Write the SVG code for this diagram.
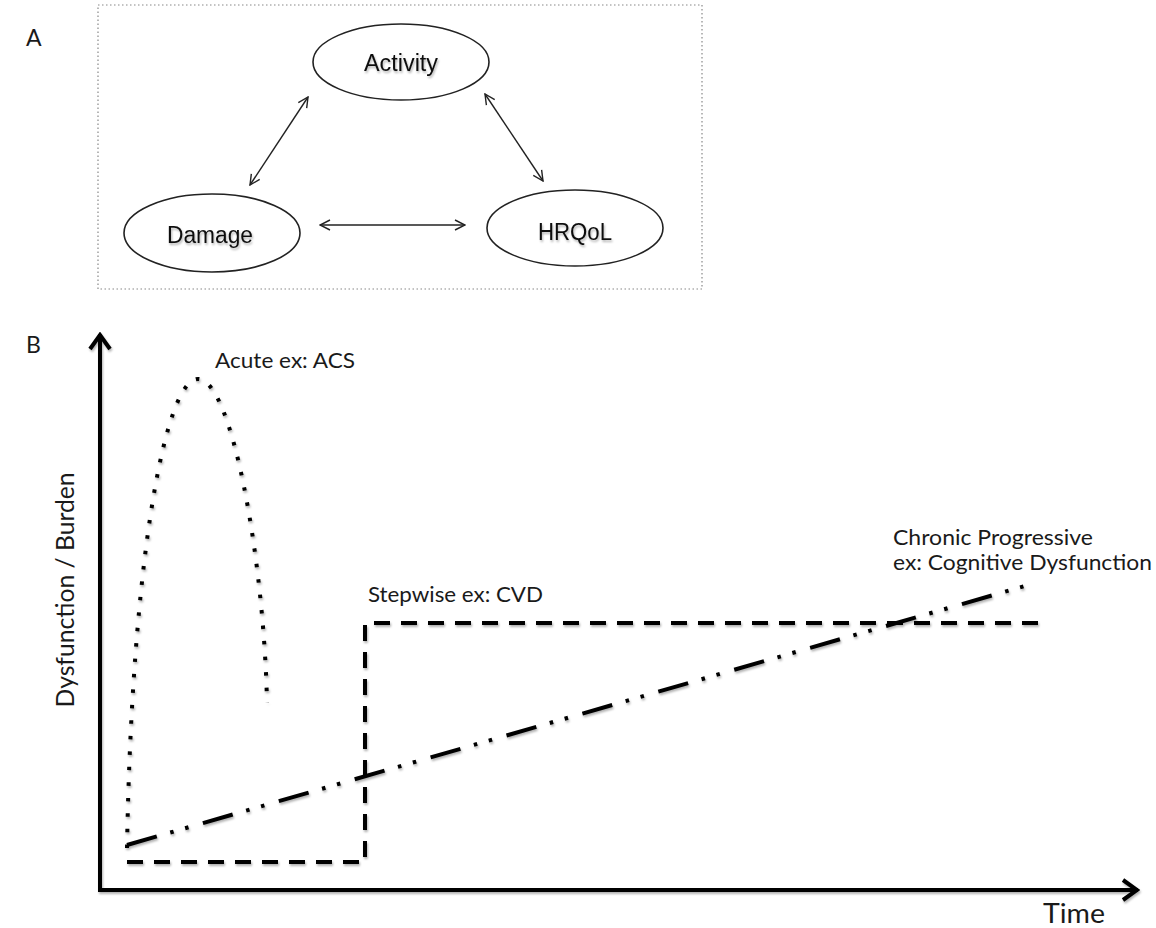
<svg xmlns="http://www.w3.org/2000/svg" width="1156" height="928" viewBox="0 0 1156 928">
<style>
.lbl{font-family:"Lato","Open Sans","Liberation Sans",sans-serif;fill:#1a1a1a}
.node{fill:#fff;stroke:#222;stroke-width:1.6}
.ntext{font-family:"Liberation Sans",Arial,sans-serif;font-size:23px;fill:#111;text-anchor:middle}
.conn{stroke:#222;stroke-width:1.4;fill:none}
.ax{stroke:#000;stroke-width:4;fill:none}
.curve{stroke:#000;stroke-width:4;fill:none}
</style>
<defs>
<marker id="oa" viewBox="0 0 12 12" refX="11" refY="6" markerWidth="12" markerHeight="12" markerUnits="userSpaceOnUse" orient="auto-start-reverse">
<path d="M1,1 L11,6 L1,11" fill="none" stroke="#222" stroke-width="1.4"/>
</marker>
<marker id="axh" viewBox="0 0 20 24" refX="18" refY="12" markerWidth="20" markerHeight="24" markerUnits="userSpaceOnUse" orient="auto">
<path d="M3,2 L17,12 L3,22" fill="none" stroke="#000" stroke-width="4" stroke-linejoin="miter"/>
</marker>
<filter id="sh" x="-10%" y="-10%" width="120%" height="130%">
<feDropShadow dx="1" dy="2" stdDeviation="1.2" flood-color="#000" flood-opacity="0.3"/>
</filter>
</defs>

<!-- Panel A -->
<text class="lbl" x="26" y="46" font-size="23">A</text>
<rect x="98" y="5" width="604" height="284" fill="none" stroke="#888" stroke-width="1.2" stroke-dasharray="1.5 2.5"/>

<g id="connectors-A">
<line class="conn" x1="250" y1="185" x2="308" y2="97" marker-start="url(#oa)" marker-end="url(#oa)"/>
<line class="conn" x1="485" y1="94" x2="543" y2="181" marker-start="url(#oa)" marker-end="url(#oa)"/>
<line class="conn" x1="320" y1="225" x2="465" y2="225" marker-start="url(#oa)" marker-end="url(#oa)"/>
</g>

<g id="node-activity">
<ellipse class="node" cx="401" cy="62" rx="88" ry="38"/>
<text class="ntext" x="401" y="71" filter="url(#sh)" textLength="74" lengthAdjust="spacingAndGlyphs">Activity</text>
</g>
<g id="node-damage">
<ellipse class="node" cx="212" cy="233" rx="88" ry="39"/>
<text class="ntext" x="210" y="243" filter="url(#sh)" textLength="86" lengthAdjust="spacingAndGlyphs">Damage</text>
</g>
<g id="node-hrqol">
<ellipse class="node" cx="575" cy="228" rx="88" ry="38"/>
<text class="ntext" x="575" y="240" filter="url(#sh)" textLength="74" lengthAdjust="spacingAndGlyphs">HRQoL</text>
</g>

<!-- Panel B -->
<text class="lbl" x="26" y="353" font-size="23">B</text>

<g id="axes" filter="url(#sh)">
<line class="ax" x1="100" y1="890" x2="100" y2="334" marker-end="url(#axh)"/>
<line class="ax" x1="98" y1="890" x2="1138" y2="890" marker-end="url(#axh)"/>
</g>
<text class="lbl" font-size="25" transform="translate(74,590) rotate(-90)" text-anchor="middle" textLength="235" lengthAdjust="spacingAndGlyphs">Dysfunction / Burden</text>
<text class="lbl" x="1043" y="923" font-size="26" textLength="62" lengthAdjust="spacingAndGlyphs">Time</text>

<g id="curves" filter="url(#sh)">
<g id="acute">
<path class="curve" stroke-width="3.6" stroke-dasharray="3.5 12" d="M127,848 C132,560 165,379 198,379 C232,379 264,560 267,703"/>
</g>
<g id="stepwise">
<path class="curve" stroke-dasharray="16 11" d="M127,862 L365,862 L365,623 L1045,623"/>
</g>
<g id="chronic">
<line class="curve" x1="127" y1="845" x2="1035" y2="583" stroke-dasharray="31 14 3.5 12 3.5 15"/>
</g>
</g>

<text class="lbl" x="215" y="368" font-size="22" textLength="140" lengthAdjust="spacingAndGlyphs">Acute ex: ACS</text>
<text class="lbl" x="368" y="602" font-size="22" textLength="175" lengthAdjust="spacingAndGlyphs">Stepwise ex: CVD</text>
<text class="lbl" x="893" y="545" font-size="22" textLength="200" lengthAdjust="spacingAndGlyphs">Chronic Progressive</text>
<text class="lbl" x="893" y="570" font-size="22" textLength="259" lengthAdjust="spacingAndGlyphs">ex: Cognitive Dysfunction</text>
</svg>
